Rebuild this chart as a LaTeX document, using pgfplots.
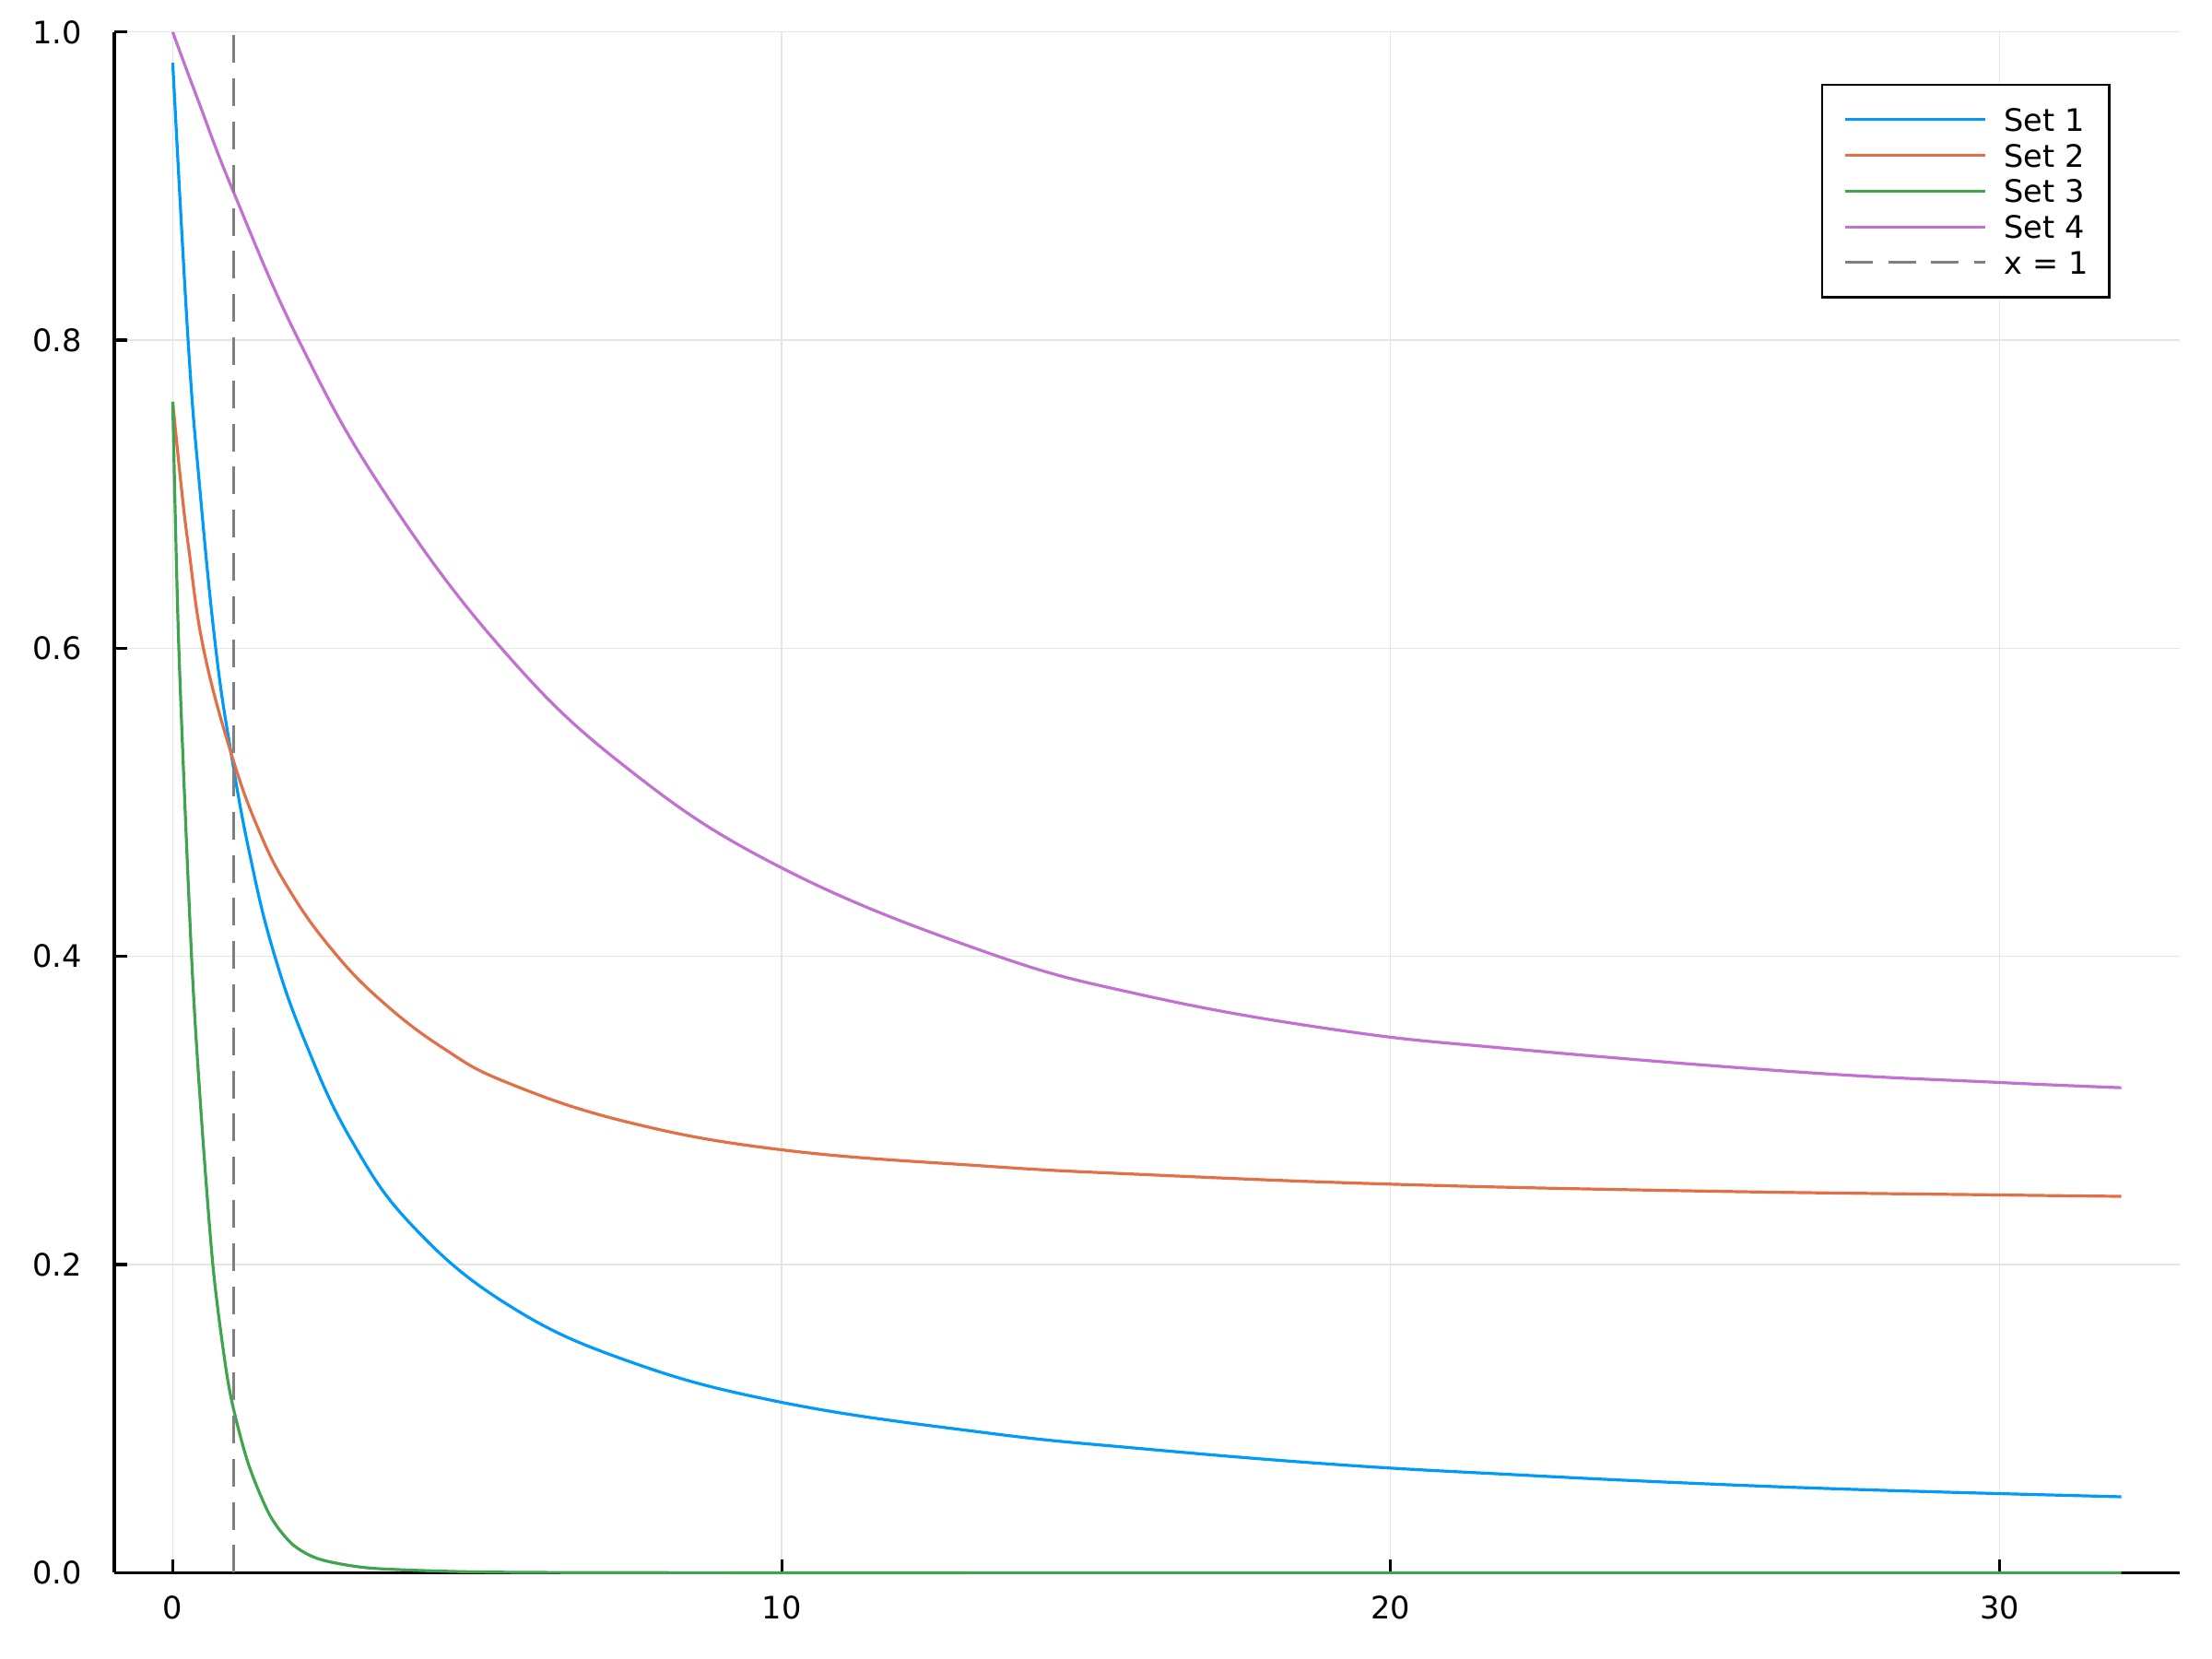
\documentclass[border=0pt]{standalone}
\usepackage{fontspec}
\setmainfont{DejaVu Sans}
\usepackage{pgfplots}
\pgfplotsset{compat=1.18}
\definecolor{c1}{RGB}{0,154,250}
\definecolor{c2}{RGB}{226,111,70}
\definecolor{c3}{RGB}{62,164,78}
\definecolor{c4}{RGB}{194,113,210}
\definecolor{vg}{RGB}{128,128,128}
\begin{document}
\begin{tikzpicture}
\path[use as bounding box] (0,0) rectangle (600bp,450bp);
\begin{axis}[
  at={(31bp,23.4bp)}, anchor=south west,
  scale only axis, width=560.25bp, height=417.9bp,
  xmin=-0.96, xmax=32.96, ymin=0, ymax=1,
  axis x line*=bottom, axis y line*=left,
  axis line style={line width=0.8bp, black, -},
  xtick={0,10,20,30}, xticklabels={0,10,20,30},
  ytick={0,0.2,0.4,0.6,0.8,1}, yticklabels={0.0,0.2,0.4,0.6,0.8,1.0},
  tick align=inside, major tick length=3.6bp,
  tick style={line width=0.8bp, black},
  xticklabel style={anchor=north, inner sep=0pt, yshift=-6.2bp},
  yticklabel style={anchor=east, inner sep=0pt, xshift=-8.6bp},
  tick label style={font=\fontsize{8.4bp}{10bp}\selectfont},
  grid=major, major grid style={line width=0.35bp, draw=black!10},
  clip=false,
  legend cell align=left,
  legend style={at={(0.9665,0.9665)}, anchor=north east, draw=black, line width=0.67bp, fill=white,
    inner xsep=5.8bp, inner ysep=6.3bp, row sep=3.47bp,
    font=\fontsize{8.4bp}{10bp}\selectfont, nodes={inner sep=0pt, text depth=0pt}},
  legend image code/.code={\draw[#1, line width=0.8bp] (0bp,0bp) -- (38bp,0bp); \path[draw=none,fill=none] (0bp,0bp) -- (43.2bp,0bp);},
  every axis plot/.append style={line width=0.8bp},
]
\addplot[c1, smooth, tension=0.7] coordinates {
(0,0.980) (0.252,0.800) (0.444,0.704) (0.706,0.600) (0.958,0.532) (1.261,0.467)
(1.64,0.405) (2.17,0.345) (2.93,0.281) (3.94,0.225) (5.5,0.174) (7.47,0.1375)
(10,0.1106) (13.32,0.0910) (15.92,0.0805) (19.12,0.0702) (22,0.0637) (25,0.0580)
(28,0.0536) (32,0.0493)};
\addlegendentry{Set 1}
\addplot[c2, smooth, tension=0.7] coordinates {
(0,0.760) (0.14,0.705) (0.262,0.665) (0.504,0.600) (0.958,0.532) (1.413,0.482)
(1.917,0.443) (2.624,0.404) (3.431,0.371) (4.441,0.3405) (5.5,0.318) (7.469,0.2925)
(10,0.2745) (13.32,0.2640) (15.92,0.2585) (20,0.2522) (25,0.2478) (30,0.2452)
(32,0.2443)};
\addlegendentry{Set 2}
\addplot[c3, smooth] coordinates {
(0,0.760) (0.1,0.600) (0.303,0.405) (0.454,0.305) (0.656,0.201) (0.857,0.137)
(1.0,0.106) (1.25,0.0697) (1.588,0.0378) (1.926,0.0199) (2.25,0.0113) (2.6,0.0069)
(3.28,0.0029) (4.63,0.0008) (6,0.0002) (9,0) (14,0) (20,0) (26,0) (32,0)};
\addlegendentry{Set 3}
\addplot[c4, smooth, tension=0.7] coordinates {
(0,1.0) (0.404,0.957) (1.0,0.896) (2.068,0.800) (3.431,0.704) (5.399,0.600)
(7.469,0.522) (10,0.4575) (13.32,0.4033) (15.92,0.375) (19.12,0.3523) (22,0.3400)
(26.7,0.325) (30,0.3182) (32,0.3148)};
\addlegendentry{Set 4}
\addplot[vg, dash pattern=on 7.5bp off 4.2bp] coordinates {(1,0) (1,1)};
\addlegendentry{x = 1}
\end{axis}
\end{tikzpicture}
\end{document}
